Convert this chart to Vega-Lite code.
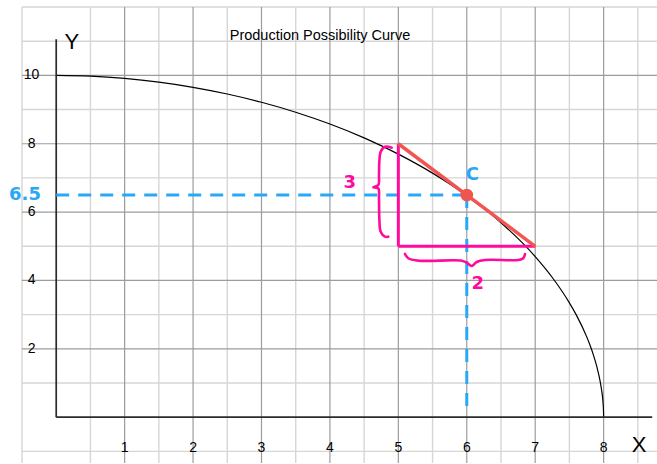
{
  "$schema": "https://vega.github.io/schema/vega-lite/v6.json",
  "width": 635,
  "height": 456,
  "autosize": {"type": "none"},
  "padding": {"left": 22, "top": 7, "right": 0, "bottom": 1},
  "background": "white",
  "config": {"view": {"stroke": null}, "text": {"font": "Liberation Sans"}},
  "datasets": {
    "gridxMinor": [{"x": -0.5}, {"x": 0.5}, {"x": 1.5}, {"x": 2.5}, {"x": 3.5}, {"x": 4.5}, {"x": 5.5}, {"x": 6.5}, {"x": 7.5}, {"x": 8.5}],
    "gridxMajor": [{"x": 1}, {"x": 2}, {"x": 3}, {"x": 4}, {"x": 5}, {"x": 6}, {"x": 7}, {"x": 8}],
    "gridyMinor": [{"y": -1}, {"y": 1}, {"y": 3}, {"y": 5}, {"y": 7}, {"y": 9}, {"y": 11}, {"y": 12}],
    "gridyMajor": [{"y": 2}, {"y": 4}, {"y": 6}, {"y": 8}, {"y": 10}],
    "curve": [
      {"x": 0, "y": 10}, {"x": 0.5, "y": 9.977}, {"x": 1, "y": 9.911}, {"x": 1.5, "y": 9.802},
      {"x": 2, "y": 9.651}, {"x": 2.5, "y": 9.455}, {"x": 3, "y": 9.213}, {"x": 3.5, "y": 8.922},
      {"x": 4, "y": 8.576}, {"x": 4.5, "y": 8.171}, {"x": 5, "y": 7.696}, {"x": 5.5, "y": 7.14},
      {"x": 6, "y": 6.482}, {"x": 6.5, "y": 5.69}, {"x": 7, "y": 4.698}, {"x": 7.25, "y": 4.087},
      {"x": 7.5, "y": 3.346}, {"x": 7.6, "y": 2.994}, {"x": 7.75, "y": 2.364}, {"x": 7.8, "y": 2.111},
      {"x": 7.85, "y": 1.825}, {"x": 7.9, "y": 1.484}, {"x": 7.95, "y": 1.042}, {"x": 7.97, "y": 0.802},
      {"x": 7.99, "y": 0.457}, {"x": 7.998, "y": 0.2}, {"x": 8, "y": 0}
    ],
    "axislines": [
      {"x": 0, "y": 0, "x2": 0, "y2": 11.06},
      {"x": 0, "y": 0, "x2": 8.71, "y2": 0}
    ],
    "dashed": [
      {"x": 0, "y": 6.5, "x2": 6, "y2": 6.5},
      {"x": 6, "y": 6.5, "x2": 6, "y2": 0.16}
    ],
    "legs": [
      {"x": 5, "y": 8, "x2": 5, "y2": 5},
      {"x": 5, "y": 5, "x2": 7, "y2": 5}
    ],
    "hyp": [{"x": 5, "y": 8, "x2": 7, "y2": 5}],
    "pointC": [{"x": 6, "y": 6.5}],
    "braces": [
      {"b": "v", "i": 0, "x": 4.903, "y": 7.885},
      {"b": "v", "i": 1, "x": 4.805, "y": 7.914},
      {"b": "v", "i": 2, "x": 4.742, "y": 7.768},
      {"b": "v", "i": 3, "x": 4.722, "y": 7.475},
      {"b": "v", "i": 4, "x": 4.717, "y": 7.086},
      {"b": "v", "i": 5, "x": 4.707, "y": 6.794},
      {"b": "v", "i": 6, "x": 4.634, "y": 6.726},
      {"b": "v", "i": 7, "x": 4.707, "y": 6.697},
      {"b": "v", "i": 8, "x": 4.717, "y": 6.404},
      {"b": "v", "i": 9, "x": 4.722, "y": 5.819},
      {"b": "v", "i": 10, "x": 4.742, "y": 5.427},
      {"b": "v", "i": 11, "x": 4.805, "y": 5.281},
      {"b": "v", "i": 12, "x": 4.853, "y": 5.281},
      {"b": "h", "i": 0, "x": 5.097, "y": 4.775},
      {"b": "h", "i": 1, "x": 5.145, "y": 4.649},
      {"b": "h", "i": 2, "x": 5.292, "y": 4.579},
      {"b": "h", "i": 3, "x": 5.926, "y": 4.579},
      {"b": "h", "i": 4, "x": 5.999, "y": 4.52},
      {"b": "h", "i": 5, "x": 6.072, "y": 4.424},
      {"b": "h", "i": 6, "x": 6.145, "y": 4.541},
      {"b": "h", "i": 7, "x": 6.267, "y": 4.599},
      {"b": "h", "i": 8, "x": 6.753, "y": 4.599},
      {"b": "h", "i": 9, "x": 6.826, "y": 4.649},
      {"b": "h", "i": 10, "x": 6.851, "y": 4.775}
    ],
    "xlabels": [
      {"x": 1, "y": -0.9, "t": "1"}, {"x": 2, "y": -0.9, "t": "2"}, {"x": 3, "y": -0.9, "t": "3"},
      {"x": 4, "y": -0.9, "t": "4"}, {"x": 5, "y": -0.9, "t": "5"}, {"x": 6, "y": -0.9, "t": "6"},
      {"x": 7, "y": -0.9, "t": "7"}, {"x": 8, "y": -0.9, "t": "8"}
    ],
    "ylabels": [
      {"x": -0.36, "y": 10, "t": "10"}, {"x": -0.36, "y": 8, "t": "8"}, {"x": -0.36, "y": 6, "t": "6"},
      {"x": -0.36, "y": 4, "t": "4"}, {"x": -0.36, "y": 2, "t": "2"}
    ],
    "axistitles": [
      {"x": 0.23, "y": 10.98, "t": "Y"},
      {"x": 8.52, "y": -0.81, "t": "X"}
    ],
    "charttitle": [{"x": 3.855, "y": 11.15, "t": "Production Possibility Curve"}],
    "bluetext": [
      {"x": -0.456, "y": 6.5, "t": "6.5"},
      {"x": 6.08, "y": 7.09, "t": "C"}
    ],
    "pinktext": [
      {"x": 4.29, "y": 6.85, "t": "3"},
      {"x": 6.16, "y": 3.9, "t": "2"}
    ]
  },
  "layer": [
    {
      "data": {"name": "gridxMinor"},
      "mark": {"type": "rule", "color": "#d6d6d6", "strokeWidth": 1.4},
      "encoding": {
        "x": {"field": "x", "type": "quantitative", "scale": {"domain": [-0.5, 8.78], "nice": false, "zero": false}, "axis": null}
      }
    },
    {
      "data": {"name": "gridyMinor"},
      "mark": {"type": "rule", "color": "#d6d6d6", "strokeWidth": 1.4},
      "encoding": {
        "y": {"field": "y", "type": "quantitative", "scale": {"domain": [-1.34, 12], "nice": false, "zero": false}, "axis": null}
      }
    },
    {
      "data": {"name": "gridxMajor"},
      "mark": {"type": "rule", "color": "#9c9c9c", "strokeWidth": 1.2},
      "encoding": {
        "x": {"field": "x", "type": "quantitative", "axis": null}
      }
    },
    {
      "data": {"name": "gridyMajor"},
      "mark": {"type": "rule", "color": "#9c9c9c", "strokeWidth": 1.2},
      "encoding": {
        "y": {"field": "y", "type": "quantitative", "axis": null}
      }
    },
    {
      "data": {"name": "curve"},
      "mark": {"type": "line", "color": "black", "strokeWidth": 1.2, "interpolate": "monotone"},
      "encoding": {
        "x": {"field": "x", "type": "quantitative", "axis": null},
        "y": {"field": "y", "type": "quantitative", "axis": null}
      }
    },
    {
      "data": {"name": "axislines"},
      "mark": {"type": "rule", "color": "#2b2b2b", "strokeWidth": 1.7},
      "encoding": {
        "x": {"field": "x", "type": "quantitative", "axis": null},
        "y": {"field": "y", "type": "quantitative", "axis": null},
        "x2": {"field": "x2"},
        "y2": {"field": "y2"}
      }
    },
    {
      "data": {"name": "dashed"},
      "mark": {"type": "rule", "color": "#2aa7f5", "strokeWidth": 3, "strokeDash": [13, 9]},
      "encoding": {
        "x": {"field": "x", "type": "quantitative", "axis": null},
        "y": {"field": "y", "type": "quantitative", "axis": null},
        "x2": {"field": "x2"},
        "y2": {"field": "y2"}
      }
    },
    {
      "data": {"name": "legs"},
      "mark": {"type": "rule", "color": "#ff0a9c", "strokeWidth": 3},
      "encoding": {
        "x": {"field": "x", "type": "quantitative", "axis": null},
        "y": {"field": "y", "type": "quantitative", "axis": null},
        "x2": {"field": "x2"},
        "y2": {"field": "y2"}
      }
    },
    {
      "data": {"name": "hyp"},
      "mark": {"type": "rule", "color": "#f25550", "strokeWidth": 3.5},
      "encoding": {
        "x": {"field": "x", "type": "quantitative", "axis": null},
        "y": {"field": "y", "type": "quantitative", "axis": null},
        "x2": {"field": "x2"},
        "y2": {"field": "y2"}
      }
    },
    {
      "data": {"name": "pointC"},
      "mark": {"type": "circle", "color": "#f0544f", "opacity": 1, "size": 160},
      "encoding": {
        "x": {"field": "x", "type": "quantitative", "axis": null},
        "y": {"field": "y", "type": "quantitative", "axis": null}
      }
    },
    {
      "data": {"name": "braces"},
      "mark": {"type": "line", "color": "#ff0a9c", "strokeWidth": 2.6, "interpolate": "catmull-rom", "strokeCap": "round"},
      "encoding": {
        "x": {"field": "x", "type": "quantitative", "axis": null},
        "y": {"field": "y", "type": "quantitative", "axis": null},
        "detail": {"field": "b"},
        "order": {"field": "i", "type": "quantitative"}
      }
    },
    {
      "data": {"name": "xlabels"},
      "mark": {"type": "text", "fontSize": 14, "color": "black", "align": "center", "baseline": "middle"},
      "encoding": {
        "x": {"field": "x", "type": "quantitative", "axis": null},
        "y": {"field": "y", "type": "quantitative", "axis": null},
        "text": {"field": "t"}
      }
    },
    {
      "data": {"name": "ylabels"},
      "mark": {"type": "text", "fontSize": 14, "color": "black", "align": "center", "baseline": "middle"},
      "encoding": {
        "x": {"field": "x", "type": "quantitative", "axis": null},
        "y": {"field": "y", "type": "quantitative", "axis": null},
        "text": {"field": "t"}
      }
    },
    {
      "data": {"name": "axistitles"},
      "mark": {"type": "text", "fontSize": 22, "color": "black", "align": "center", "baseline": "middle"},
      "encoding": {
        "x": {"field": "x", "type": "quantitative", "axis": null},
        "y": {"field": "y", "type": "quantitative", "axis": null},
        "text": {"field": "t"}
      }
    },
    {
      "data": {"name": "charttitle"},
      "mark": {"type": "text", "fontSize": 14.5, "color": "black", "align": "center", "baseline": "middle"},
      "encoding": {
        "x": {"field": "x", "type": "quantitative", "axis": null},
        "y": {"field": "y", "type": "quantitative", "axis": null},
        "text": {"field": "t"}
      }
    },
    {
      "data": {"name": "bluetext"},
      "mark": {"type": "text", "font": "DejaVu Sans", "fontWeight": "bold", "fontSize": 18, "color": "#2aa7f5", "align": "center", "baseline": "middle"},
      "encoding": {
        "x": {"field": "x", "type": "quantitative", "axis": null},
        "y": {"field": "y", "type": "quantitative", "axis": null},
        "text": {"field": "t"}
      }
    },
    {
      "data": {"name": "pinktext"},
      "mark": {"type": "text", "font": "DejaVu Sans", "fontWeight": "bold", "fontSize": 18, "color": "#ff0a9c", "align": "center", "baseline": "middle"},
      "encoding": {
        "x": {"field": "x", "type": "quantitative", "axis": null},
        "y": {"field": "y", "type": "quantitative", "axis": null},
        "text": {"field": "t"}
      }
    }
  ]
}
